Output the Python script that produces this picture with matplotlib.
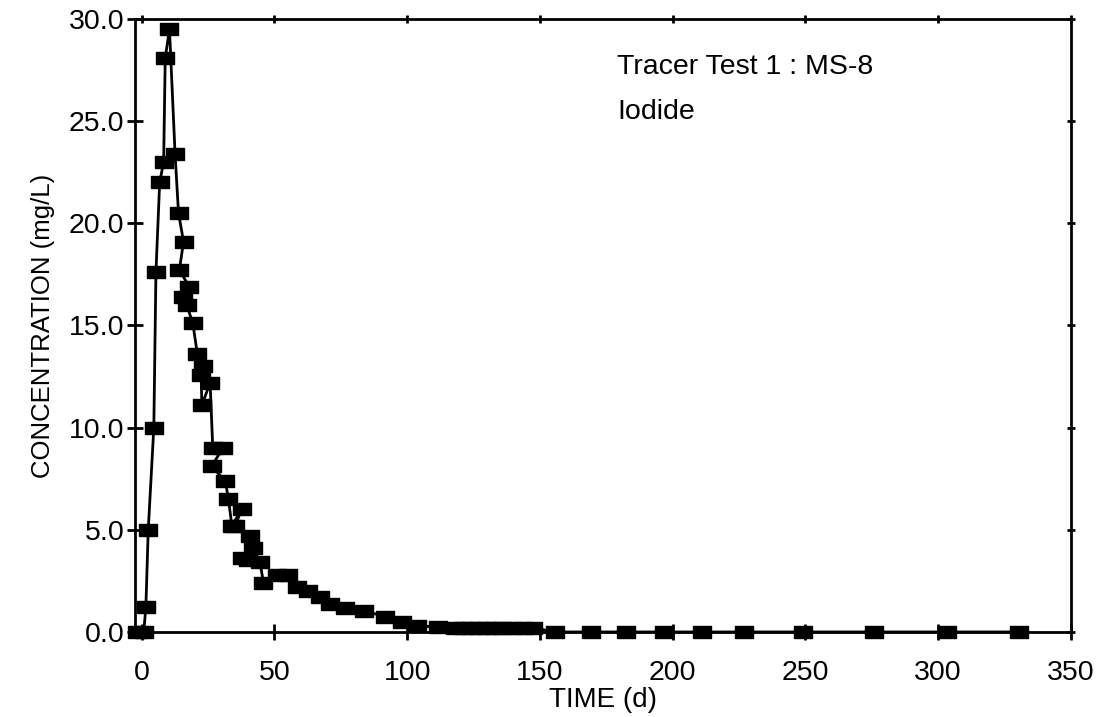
import numpy as np
import matplotlib
matplotlib.use('Agg')
import matplotlib.pyplot as plt
from matplotlib.ticker import FormatStrFormatter

plt.rcParams['font.family'] = ['Liberation Sans', 'DejaVu Sans']

# time (d) and concentration (mg/L) in drawing order
time = [-1.8, 0.8, 1.6, 2.5, 4.6, 5.4, 6.8, 8.3, 8.9, 10.5,
        12.6, 13.9, 15.8, 14.2, 18.0, 15.5, 17.0, 19.3, 21.0, 23.3,
        22.4, 22.7, 25.8, 26.8, 30.5, 26.4, 31.5, 32.7, 34.0, 37.7,
        35.2, 40.9, 42.1, 37.7, 40.2, 44.6, 45.9, 50.9, 55.3, 58.5,
        62.8, 67.3, 71.0, 76.7, 83.6, 91.5, 98.0, 103.7, 111.8, 118.0,
        121.0, 124.0, 127.0, 130.0, 133.0, 136.0, 140.0, 143.5, 147.5, 155.8,
        169.2, 182.6, 196.6, 211.0, 226.8, 249.2, 275.7, 303.4, 330.4]
conc = [0.0, 0.0, 1.2, 5.0, 10.0, 17.6, 22.0, 23.0, 28.1, 29.5,
        23.4, 20.5, 19.1, 17.7, 16.9, 16.4, 16.0, 15.1, 13.6, 13.0,
        12.6, 11.1, 12.2, 9.0, 9.0, 8.1, 7.4, 6.5, 5.2, 6.0,
        5.2, 4.7, 4.1, 3.6, 3.5, 3.4, 2.4, 2.8, 2.8, 2.2,
        2.0, 1.7, 1.35, 1.15, 1.05, 0.75, 0.5, 0.3, 0.25, 0.2,
        0.2, 0.2, 0.2, 0.2, 0.2, 0.2, 0.2, 0.2, 0.2, 0.0,
        0.0, 0.0, 0.0, 0.0, 0.0, 0.0, 0.0, 0.0, 0.0]

xticks = [0, 50, 100, 150, 200, 250, 300, 350]
yticks = [0, 5, 10, 15, 20, 25, 30]

# wide rectangular marker like the original
rect = [(-1, -0.72), (1, -0.72), (1, 0.72), (-1, 0.72), (-1, -0.72)]

fig = plt.figure(figsize=(11.09, 7.17), dpi=100)
ax = fig.add_axes([0.1217, 0.1186, 0.9657 - 0.1217, 0.9735 - 0.1186])

ax.plot(time, conc, color='black', lw=2.0, marker=rect, markersize=12.5,
        markerfacecolor='black', markeredgecolor='black', clip_on=False,
        zorder=3)

ax.set_xlim(-2.5, 350)
ax.set_ylim(0, 30)
ax.set_xticks(xticks)
ax.set_yticks(yticks)
ax.yaxis.set_major_formatter(FormatStrFormatter('%.1f'))

for s in ax.spines.values():
    s.set_linewidth(2)
ax.tick_params(axis='both', which='major', labelsize=20.5, width=2,
               direction='inout', length=12, pad=6)
ax.tick_params(axis='x', pad=14)
ax.tick_params(axis='y', pad=1.5)
ax.tick_params(which='major', top=True, right=True)
# top/right ticks shorter
for t in ax.xaxis.get_major_ticks():
    t.tick2line.set_markersize(6)
for t in ax.yaxis.get_major_ticks():
    t.tick2line.set_markersize(6)

ax.set_xlabel('TIME (d)', fontsize=20, labelpad=1)
ax.set_ylabel('CONCENTRATION (mg/L)', fontsize=18.5, labelpad=10)

ax.text(179, 27.65, 'Tracer Test 1 : MS-8', fontsize=20.5, va='center')
ax.text(179, 25.45, 'Iodide', fontsize=20.5, va='center')

fig.savefig('out.png', dpi=100)
